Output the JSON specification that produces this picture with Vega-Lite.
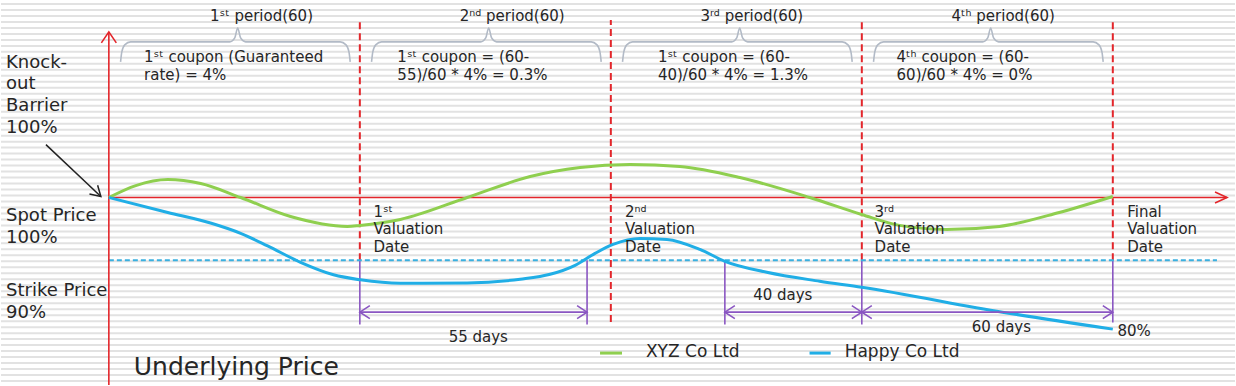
{
  "$schema": "https://vega.github.io/schema/vega-lite/v6.json",
  "width": 1236,
  "height": 386,
  "autosize": {"type": "fit", "contains": "padding"},
  "padding": 0,
  "background": "white",
  "config": {"view": {"stroke": null}, "text": {"font": "DejaVu Sans", "color": "#262626"}},
  "datasets": {
    "stripes": [{"s":0},{"s":1},{"s":2},{"s":3},{"s":4},{"s":5},{"s":6},{"s":7},{"s":8},{"s":9},{"s":10},{"s":11},{"s":12},{"s":13},{"s":14},{"s":15},{"s":16},{"s":17},{"s":18},{"s":19},{"s":20},{"s":21},{"s":22},{"s":23},{"s":24},{"s":25},{"s":26},{"s":27},{"s":28},{"s":29},{"s":30},{"s":31},{"s":32},{"s":33},{"s":34},{"s":35},{"s":36},{"s":37},{"s":38},{"s":39},{"s":40},{"s":41},{"s":42},{"s":43},{"s":44},{"s":45},{"s":46},{"s":47},{"s":48},{"s":49},{"s":50},{"s":51},{"s":52},{"s":53},{"s":54},{"s":55},{"s":56},{"s":57},{"s":58},{"s":59},{"s":60},{"s":61},{"s":62},{"s":63}],
    "braces": [
      {"b":"b1","x":2.8,"y":121.59},{"b":"b1","x":3.1,"y":123.17},{"b":"b1","x":3.8,"y":124.29},{"b":"b1","x":5.2,"y":124.76},{"b":"b1","x":28.9,"y":124.76},{"b":"b1","x":30.1,"y":125.4},{"b":"b1","x":30.8,"y":126.98},{"b":"b1","x":31.5,"y":125.4},{"b":"b1","x":32.7,"y":124.76},{"b":"b1","x":55.3,"y":124.76},{"b":"b1","x":56.7,"y":124.29},{"b":"b1","x":57.4,"y":123.17},{"b":"b1","x":57.7,"y":121.59},
      {"b":"b2","x":62.8,"y":121.59},{"b":"b2","x":63.1,"y":123.17},{"b":"b2","x":63.8,"y":124.29},{"b":"b2","x":65.2,"y":124.76},{"b":"b2","x":88.9,"y":124.76},{"b":"b2","x":90.1,"y":125.4},{"b":"b2","x":90.8,"y":126.98},{"b":"b2","x":91.5,"y":125.4},{"b":"b2","x":92.7,"y":124.76},{"b":"b2","x":115.3,"y":124.76},{"b":"b2","x":116.7,"y":124.29},{"b":"b2","x":117.4,"y":123.17},{"b":"b2","x":117.7,"y":121.59},
      {"b":"b3","x":122.8,"y":121.59},{"b":"b3","x":123.1,"y":123.17},{"b":"b3","x":123.8,"y":124.29},{"b":"b3","x":125.2,"y":124.76},{"b":"b3","x":148.9,"y":124.76},{"b":"b3","x":150.1,"y":125.4},{"b":"b3","x":150.8,"y":126.98},{"b":"b3","x":151.5,"y":125.4},{"b":"b3","x":152.7,"y":124.76},{"b":"b3","x":175.3,"y":124.76},{"b":"b3","x":176.7,"y":124.29},{"b":"b3","x":177.4,"y":123.17},{"b":"b3","x":177.7,"y":121.59},
      {"b":"b4","x":182.8,"y":121.59},{"b":"b4","x":183.1,"y":123.17},{"b":"b4","x":183.8,"y":124.29},{"b":"b4","x":185.2,"y":124.76},{"b":"b4","x":208.9,"y":124.76},{"b":"b4","x":210.1,"y":125.4},{"b":"b4","x":210.8,"y":126.98},{"b":"b4","x":211.5,"y":125.4},{"b":"b4","x":212.7,"y":124.76},{"b":"b4","x":235.3,"y":124.76},{"b":"b4","x":236.7,"y":124.29},{"b":"b4","x":237.4,"y":123.17},{"b":"b4","x":237.7,"y":121.59}
    ],
    "curves": [
      {"series":"XYZ Co Ltd","x":0,"y":100},{"series":"XYZ Co Ltd","x":6.44,"y":101.9},{"series":"XYZ Co Ltd","x":14.08,"y":102.86},{"series":"XYZ Co Ltd","x":21.96,"y":102.22},{"series":"XYZ Co Ltd","x":31.5,"y":100},{"series":"XYZ Co Ltd","x":43.44,"y":96.98},{"series":"XYZ Co Ltd","x":57.04,"y":95.4},{"series":"XYZ Co Ltd","x":60,"y":95.56},{"series":"XYZ Co Ltd","x":69.69,"y":96.51},{"series":"XYZ Co Ltd","x":85.68,"y":100},{"series":"XYZ Co Ltd","x":100.72,"y":103.33},{"series":"XYZ Co Ltd","x":112.65,"y":104.76},{"series":"XYZ Co Ltd","x":124.58,"y":105.24},{"series":"XYZ Co Ltd","x":136.52,"y":104.92},{"series":"XYZ Co Ltd","x":150.84,"y":103.17},{"series":"XYZ Co Ltd","x":167.54,"y":100},{"series":"XYZ Co Ltd","x":179.95,"y":97.3},{"series":"XYZ Co Ltd","x":189.02,"y":95.56},{"series":"XYZ Co Ltd","x":200.24,"y":94.92},{"series":"XYZ Co Ltd","x":212.89,"y":95.4},{"series":"XYZ Co Ltd","x":227.21,"y":97.62},{"series":"XYZ Co Ltd","x":240,"y":100.16},
      {"series":"Happy Co Ltd","x":0,"y":100},{"series":"Happy Co Ltd","x":14.08,"y":97.62},{"series":"Happy Co Ltd","x":24.5,"y":95.9},{"series":"Happy Co Ltd","x":31.5,"y":94.3},{"series":"Happy Co Ltd","x":37.95,"y":92.3},{"series":"Happy Co Ltd","x":45.82,"y":89.68},{"series":"Happy Co Ltd","x":53.7,"y":87.7},{"series":"Happy Co Ltd","x":60.14,"y":86.9},{"series":"Happy Co Ltd","x":69.69,"y":86.35},{"series":"Happy Co Ltd","x":85.68,"y":86.4},{"series":"Happy Co Ltd","x":98.33,"y":87.0},{"series":"Happy Co Ltd","x":105.49,"y":87.78},{"series":"Happy Co Ltd","x":111.46,"y":89.21},{"series":"Happy Co Ltd","x":116.23,"y":91.11},{"series":"Happy Co Ltd","x":120.53,"y":92.54},{"series":"Happy Co Ltd","x":126.97,"y":93.49},{"series":"Happy Co Ltd","x":133.41,"y":93.33},{"series":"Happy Co Ltd","x":141.29,"y":91.75},{"series":"Happy Co Ltd","x":147.26,"y":89.84},{"series":"Happy Co Ltd","x":157.28,"y":88.1},{"series":"Happy Co Ltd","x":169.93,"y":86.67},{"series":"Happy Co Ltd","x":179.95,"y":85.71},{"series":"Happy Co Ltd","x":213.6,"y":81.75},{"series":"Happy Co Ltd","x":240,"y":79.05}
    ]
  },
  "layer": [
    {
      "data": {"name": "stripes"},
      "mark": {"type": "rule", "stroke": "#e2e2e2", "strokeWidth": 2},
      "encoding": {
        "y": {"field": "s", "type": "quantitative", "scale": {"domain": [-0.667, 63.667], "nice": false, "zero": false}, "axis": null}
      }
    },
    {
      "encoding": {
        "x": {"field": "x", "type": "quantitative", "scale": {"domain": [-25.78, 269.21], "nice": false, "zero": false}, "axis": null},
        "y": {"field": "y", "type": "quantitative", "scale": {"domain": [70.16, 131.43], "nice": false, "zero": false}, "axis": null}
      },
      "layer": [
        {
          "data": {"name": "braces"},
          "mark": {"type": "line", "stroke": "#b2bac6", "strokeWidth": 1.6, "interpolate": "monotone"},
          "encoding": {"detail": {"field": "b"}}
        },
        {
          "data": {"values": [{"x":60,"y":90,"y2":128.25},{"x":120,"y":80.2,"y2":128.25},{"x":180,"y":90,"y2":128.25},{"x":240,"y":90,"y2":128.25}]},
          "mark": {"type": "rule", "stroke": "#e3262b", "strokeWidth": 2, "strokeDash": [7, 4]},
          "encoding": {"y2": {"field": "y2"}}
        },
        {
          "data": {"values": [{"x":60,"y":79.8,"y2":90},{"x":114.32,"y":79.8,"y2":90},{"x":147.26,"y":79.8,"y2":90},{"x":180,"y":79.8,"y2":90},{"x":240,"y":80.1,"y2":90}]},
          "mark": {"type": "rule", "stroke": "#8a56c2", "strokeWidth": 1.6},
          "encoding": {"y2": {"field": "y2"}}
        },
        {
          "data": {"values": [{"x":0,"x2":264.9,"y":90}]},
          "mark": {"type": "rule", "stroke": "#3ab0e0", "strokeWidth": 2, "strokeDash": [5, 3]},
          "encoding": {"x2": {"field": "x2"}}
        },
        {
          "data": {"values": [{"x":0,"y":70.16,"y2":126.35}]},
          "mark": {"type": "rule", "stroke": "#e3262b", "strokeWidth": 1.6},
          "encoding": {"y2": {"field": "y2"}}
        },
        {
          "data": {"values": [{"x":0,"x2":267.3,"y":100}]},
          "mark": {"type": "rule", "stroke": "#e3262b", "strokeWidth": 1.6},
          "encoding": {"x2": {"field": "x2"}}
        },
        {
          "data": {"name": "curves"},
          "mark": {"type": "line", "strokeWidth": 3, "interpolate": "monotone"},
          "encoding": {
            "color": {"field": "series", "type": "nominal", "scale": {"domain": ["XYZ Co Ltd", "Happy Co Ltd"], "range": ["#8fcf4f", "#20aee6"]}, "legend": null}
          }
        },
        {
          "data": {"values": [{"x":60,"x2":114.32,"y":81.75},{"x":147.26,"x2":180,"y":81.75},{"x":180,"x2":240,"y":81.75}]},
          "mark": {"type": "rule", "stroke": "#8a56c2", "strokeWidth": 1.6},
          "encoding": {"x2": {"field": "x2"}}
        },
        {
          "data": {"values": [{"x":114.32,"y":81.75},{"x":180,"y":81.75},{"x":240,"y":81.75}]},
          "mark": {"type": "point", "shape": "M-1,-0.65L0,0L-1,0.65", "size": 400, "filled": false, "stroke": "#8a56c2", "strokeWidth": 1.6, "angle": 0, "opacity": 1}
        },
        {
          "data": {"values": [{"x":60,"y":81.75},{"x":147.26,"y":81.75},{"x":180,"y":81.75}]},
          "mark": {"type": "point", "shape": "M-1,-0.65L0,0L-1,0.65", "size": 400, "filled": false, "stroke": "#8a56c2", "strokeWidth": 1.6, "angle": 180, "opacity": 1}
        },
        {
          "data": {"values": [{"x":267.3,"y":100}]},
          "mark": {"type": "point", "shape": "M-1,-0.45L0,0L-1,0.45", "size": 576, "filled": false, "stroke": "#e3262b", "strokeWidth": 1.6, "angle": 0, "opacity": 1}
        },
        {
          "data": {"values": [{"x":0,"y":126.35}]},
          "mark": {"type": "point", "shape": "M-1,-0.68L0,0L-1,0.68", "size": 484, "filled": false, "stroke": "#e3262b", "strokeWidth": 1.6, "angle": 270, "opacity": 1}
        },
        {
          "data": {"values": [{"x":-15.04,"y":108.41,"x2":-1.91,"y2":100.16}]},
          "mark": {"type": "rule", "stroke": "#222222", "strokeWidth": 1.5},
          "encoding": {"x2": {"field": "x2"}, "y2": {"field": "y2"}}
        },
        {
          "data": {"values": [{"x":-1.91,"y":100.16}]},
          "mark": {"type": "point", "shape": "M-1,-0.6L0,0L-1,0.6", "size": 400, "filled": false, "stroke": "#222222", "strokeWidth": 1.5, "angle": 43, "opacity": 1}
        },
        {
          "data": {"values": [{"series":"XYZ Co Ltd","x":117.42,"x2":122.67,"y":75.24},{"series":"Happy Co Ltd","x":167.5,"x2":172.55,"y":75.24}]},
          "mark": {"type": "rule", "strokeWidth": 3},
          "encoding": {
            "x2": {"field": "x2"},
            "color": {"field": "series", "type": "nominal", "scale": {"domain": ["XYZ Co Ltd", "Happy Co Ltd"], "range": ["#8fcf4f", "#20aee6"]}, "legend": null}
          }
        },
        {
          "data": {"values": [{"x":-24.58,"y":120.68,"t":"Knock-\nout\nBarrier\n100%"},{"x":-24.58,"y":96.24,"t":"Spot Price\n100%"},{"x":-24.58,"y":84.33,"t":"Strike Price\n90%"}]},
          "mark": {"type": "text", "align": "left", "baseline": "alphabetic", "fontSize": 18, "lineHeight": 21.7, "lineBreak": "\n"},
          "encoding": {"text": {"field": "t"}}
        },
        {
          "data": {"values": [{"x":5.97,"y":71.75,"t":"Underlying Price"}]},
          "mark": {"type": "text", "align": "left", "baseline": "alphabetic", "fontSize": 25},
          "encoding": {"text": {"field": "t"}}
        },
        {
          "data": {"values": [{"x":8.42,"y":121.54,"t":"1ˢᵗ coupon (Guaranteed\nrate) = 4%"},{"x":68.97,"y":121.54,"t":"1ˢᵗ coupon = (60-\n55)/60 * 4% = 0.3%"},{"x":131.26,"y":121.54,"t":"1ˢᵗ coupon = (60-\n40)/60 * 4% = 1.3%"},{"x":188.31,"y":121.54,"t":"4ᵗʰ coupon = (60-\n60)/60 * 4% = 0%"}]},
          "mark": {"type": "text", "align": "left", "baseline": "alphabetic", "fontSize": 15, "lineHeight": 18, "lineBreak": "\n"},
          "encoding": {"text": {"field": "t"}}
        },
        {
          "data": {"values": [{"x":36.5,"y":128.14,"t":"1ˢᵗ period(60)"},{"x":96.42,"y":128.14,"t":"2ⁿᵈ period(60)"},{"x":153.7,"y":128.14,"t":"3ʳᵈ period(60)"},{"x":213.8,"y":128.14,"t":"4ᵗʰ period(60)"}]},
          "mark": {"type": "text", "align": "center", "baseline": "alphabetic", "fontSize": 15},
          "encoding": {"text": {"field": "t"}}
        },
        {
          "data": {"values": [{"x":63.25,"y":96.94,"t":"1ˢᵗ\nValuation\nDate"},{"x":123.39,"y":96.94,"t":"2ⁿᵈ\nValuation\nDate"},{"x":183.05,"y":96.94,"t":"3ʳᵈ\nValuation\nDate"},{"x":243.44,"y":96.94,"t":"Final\nValuation\nDate"}]},
          "mark": {"type": "text", "align": "left", "baseline": "alphabetic", "fontSize": 15, "lineHeight": 17.7, "lineBreak": "\n"},
          "encoding": {"text": {"field": "t"}}
        },
        {
          "data": {"values": [{"x":88.31,"y":76.94,"t":"55 days"},{"x":161.1,"y":83.7,"t":"40 days"},{"x":213.37,"y":78.52,"t":"60 days"},{"x":245.1,"y":77.98,"t":"80%"}]},
          "mark": {"type": "text", "align": "center", "baseline": "alphabetic", "fontSize": 15},
          "encoding": {"text": {"field": "t"}}
        },
        {
          "data": {"values": [{"x":128.4,"y":74.56,"t":"XYZ Co Ltd"},{"x":175.9,"y":74.56,"t":"Happy Co Ltd"}]},
          "mark": {"type": "text", "align": "left", "baseline": "alphabetic", "fontSize": 17},
          "encoding": {"text": {"field": "t"}}
        }
      ]
    }
  ],
  "resolve": {"scale": {"y": "independent"}}
}
